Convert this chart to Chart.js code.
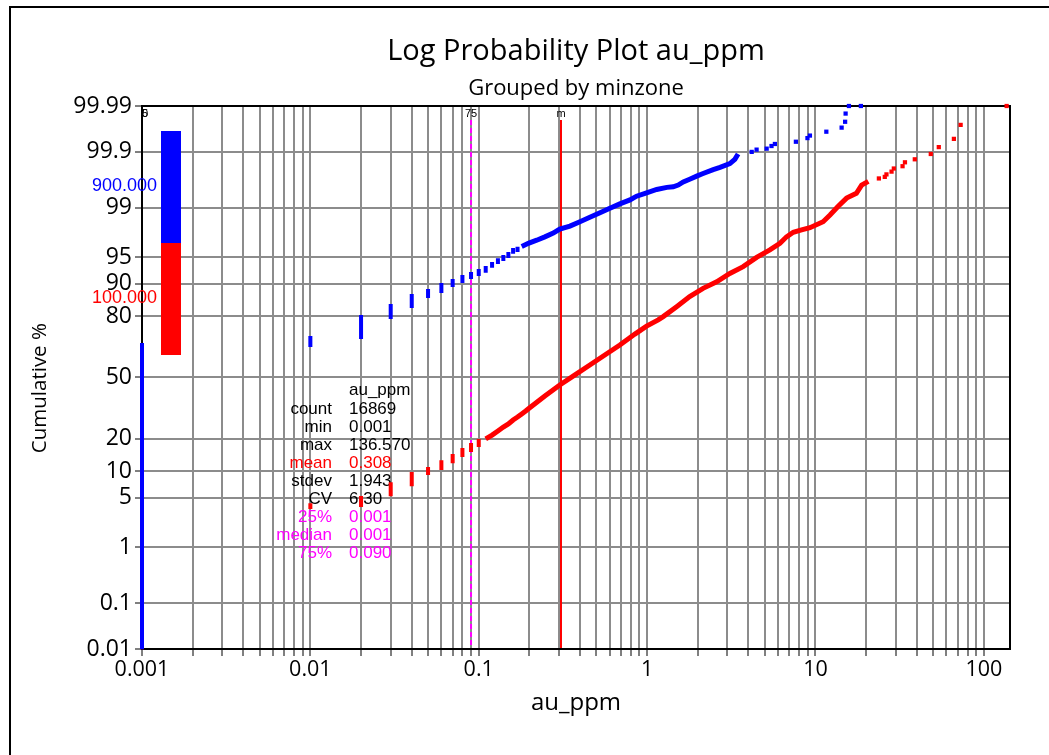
<!DOCTYPE html>
<html>
<head>
<meta charset="utf-8">
<title>Log Probability Plot au_ppm</title>
<script src="https://cdn.jsdelivr.net/npm/chart.js@4.4.1/dist/chart.umd.min.js"></script>
<style>
  html, body { margin: 0; padding: 0; background: #fff; }
  canvas { display: block; }
</style>
</head>
<body>
<canvas id="chart" width="1049" height="755"></canvas>
<script>
// ---- data (value in ppm, cumulative %) ----

// minzone 900 (blue): repeated values show up as vertical runs
var blueRunX  = [0.001, 0.01, 0.02, 0.03, 0.04, 0.05, 0.06, 0.07, 0.08, 0.09, 0.10, 0.11, 0.12, 0.13, 0.14, 0.15, 0.16, 0.17];
var blueRunLo = [0.011, 67.2, 71.0, 79.6, 83.6, 86.8, 88.2, 89.74, 90.69, 91.58, 92.19, 92.8, 93.7, 94.3, 94.77, 95.2, 95.75, 95.95];
var blueRunHi = [67.2, 70.6, 79.6, 83.6, 86.8, 88.2, 89.74, 90.69, 91.58, 92.19, 92.77, 93.3, 94.0, 94.6, 95.06, 95.45, 95.95, 96.1];
var blueBandX   = [0.18, 0.197, 0.221, 0.247, 0.277, 0.303, 0.348, 0.399, 0.457, 0.525, 0.601, 0.689, 0.791, 0.866, 0.993, 1.14, 1.31, 1.43, 1.53, 1.64, 1.79, 1.97, 2.15, 2.47, 2.71, 3.10, 3.32, 3.47];
var blueBandPct = [96.37, 96.7, 97.0, 97.3, 97.6, 97.9, 98.1, 98.36, 98.59, 98.80, 98.98, 99.13, 99.25, 99.35, 99.43, 99.50, 99.54, 99.55, 99.58, 99.63, 99.67, 99.71, 99.74, 99.78, 99.80, 99.83, 99.86, 99.89];
var blueTailX   = [4.18, 4.47, 5.13, 5.48, 5.74, 7.65, 8.96, 9.27, 11.6, 14.3, 15.0, 15.1, 15.8, 18.6];
var blueTailPct = [99.90, 99.91, 99.914, 99.924, 99.931, 99.938, 99.948, 99.954, 99.962, 99.969, 99.977, 99.985, 99.99, 99.99];

// minzone 100 (red)
var redRunX  = [0.001, 0.01, 0.02, 0.03, 0.04, 0.05, 0.06, 0.07, 0.08, 0.09, 0.10];
var redRunLo = [0.011, 3.8, 4.03, 5.5, 7.2, 9.55, 10.75, 12.6, 14.4, 16.0, 17.75];
var redRunHi = [3.8, 4.0, 4.94, 7.2, 9.3, 10.5, 12.3, 14.1, 16.0, 17.75, 19.2];
var redBandX   = [0.11, 0.12, 0.13, 0.14, 0.15, 0.16, 0.17, 0.18, 0.19, 0.20, 0.247, 0.303, 0.373, 0.457, 0.561, 0.689, 0.846, 0.993, 1.164, 1.246, 1.497, 1.79, 2.15, 2.59, 3.10, 3.72, 4.47, 5.36, 6.15, 6.73, 7.38, 8.27, 9.27, 11.1, 12.2, 13.6, 15.3, 17.5, 18.8, 20.6];
var redBandPct = [20.0, 21.5, 23.2, 24.9, 26.2, 28.0, 29.4, 30.9, 32.3, 33.8, 40.0, 45.9, 51.4, 56.8, 62.1, 67.2, 72.4, 75.9, 78.5, 79.8, 83.4, 86.6, 88.9, 90.5, 92.3, 93.55, 95.0, 95.97, 96.7, 97.3, 97.67, 97.84, 97.99, 98.36, 98.70, 99.04, 99.30, 99.42, 99.58, 99.64];
var redTailX   = [23.8, 25.8, 26.4, 28.3, 29.2, 32.9, 34.0, 38.9, 48.4, 54.0, 66.4, 72.8, 136.57];
var redTailPct = [99.68, 99.70, 99.73, 99.76, 99.79, 99.81, 99.84, 99.86, 99.89, 99.92, 99.946, 99.973, 99.99];

// groups / legend
var groupNames  = ['900.000', '100.000'];
var groupColors = ['#0000ff', '#ff0000'];

// summary statistics
var statLabels = ['count', 'min', 'max', 'mean', 'stdev', 'CV', '25%', 'median', '75%'];
var statValues = ['16869', '0.001', '136.570', '0.308', '1.943', '6.30', '0.001', '0.001', '0.090'];
var statColors = ['#000', '#000', '#000', '#ff0000', '#000', '#000', '#ff00ff', '#ff00ff', '#ff00ff'];

// quantile / mean marker lines
var markerValues = [0.001, 0.001, 0.09, 0.308];
var markerLabels = ['25', '50', '75', 'm'];
var markerColors = ['#ff00ff', '#ff00ff', '#ff00ff', '#ff0000'];

// axes
var xDecades    = [0.001, 0.01, 0.1, 1, 10, 100];
var xTickLabels = ['0.001', '0.01', '0.1', '1', '10', '100'];
var yTickPct    = [0.01, 0.1, 1, 5, 10, 20, 50, 80, 90, 95, 99, 99.9, 99.99];
var yTickLabels = ['0.01', '0.1', '1', '5', '10', '20', '50', '80', '90', '95', '99', '99.9', '99.99'];

var FONT = "'Open Sans', 'DejaVu Sans', sans-serif";
var ARIAL = "'Liberation Sans', Arial, sans-serif";

// inverse normal cdf (Acklam), used as the probability-axis transform
function probit(p) {
  var a = [-3.969683028665376e+01, 2.209460984245205e+02, -2.759285104469687e+02, 1.383577518672690e+02, -3.066479806614716e+01, 2.506628277459239e+00];
  var b = [-5.447609879822406e+01, 1.615858368580409e+02, -1.556989798598866e+02, 6.680131188771972e+01, -1.328068155288572e+01];
  var c = [-7.784894002430293e-03, -3.223964580411365e-01, -2.400758277161838e+00, -2.549732539343734e+00, 4.374664141464968e+00, 2.938163982698783e+00];
  var d = [7.784695709041462e-03, 3.224671290700398e-01, 2.445134137142996e+00, 3.754408661907416e+00];
  var q, r;
  if (p < 0.02425) {
    q = Math.sqrt(-2 * Math.log(p));
    return (((((c[0]*q+c[1])*q+c[2])*q+c[3])*q+c[4])*q+c[5]) / ((((d[0]*q+d[1])*q+d[2])*q+d[3])*q+1);
  }
  if (p <= 1 - 0.02425) {
    q = p - 0.5; r = q * q;
    return (((((a[0]*r+a[1])*r+a[2])*r+a[3])*r+a[4])*r+a[5])*q / (((((b[0]*r+b[1])*r+b[2])*r+b[3])*r+b[4])*r+1);
  }
  q = Math.sqrt(-2 * Math.log(1 - p));
  return -(((((c[0]*q+c[1])*q+c[2])*q+c[3])*q+c[4])*q+c[5]) / ((((d[0]*q+d[1])*q+d[2])*q+d[3])*q+1);
}
function z(pct) { return probit(pct / 100); }

function runPoints(xs, lo, hi) {
  var out = [];
  xs.forEach(function(x, i) {
    out.push({x: x, y: z(lo[i])}, {x: x, y: z(hi[i])}, {x: x, y: null});
  });
  return out;
}
function points(xs, pcts) {
  return xs.map(function(x, i) { return {x: x, y: z(pcts[i])}; });
}

// x grid: every 1..9 multiple of each decade
var xGrid = [], xGridLabels = [];
xDecades.forEach(function(dec, i) {
  for (var m = 1; m <= 9; m++) {
    if (m * dec <= 143) {
      xGrid.push(m * dec);
      xGridLabels.push(m === 1 ? xTickLabels[i] : '');
    }
  }
});

function runSet(data, color) {
  return { data: data, showLine: true, spanGaps: false, borderColor: color, borderWidth: 4,
           borderCapStyle: 'square', pointRadius: 0, clip: false };
}
function bandSet(data, color) {
  return { data: data, showLine: true, borderColor: color, borderWidth: 5,
           pointRadius: 0, clip: false };
}
function tailSet(data, color) {
  return { data: data, showLine: false, pointStyle: 'rect', pointRadius: 3, borderWidth: 0,
           backgroundColor: color, borderColor: color, clip: false };
}

var decor = {
  id: 'decor',
  beforeDraw: function(chart) {
    var ctx = chart.ctx, ca = chart.chartArea;
    ctx.save();
    ctx.fillStyle = '#fff';
    ctx.fillRect(0, 0, chart.width, chart.height);
    ctx.fillStyle = '#000';
    ctx.fillRect(9, 6, 2, chart.height - 6);
    ctx.fillRect(9, 6, chart.width - 9, 2);
    var cx = (ca.left + ca.right) / 2;
    ctx.textAlign = 'center';
    ctx.textBaseline = 'middle';
    ctx.font = '29px ' + FONT;
    ctx.fillText('Log Probability Plot au_ppm', cx, 52);
    ctx.font = '22px ' + FONT;
    ctx.fillText('Grouped by minzone', cx, 89);
    ctx.restore();
  },
  beforeDatasetsDraw: function(chart) {
    var ctx = chart.ctx, ca = chart.chartArea, xs = chart.scales.x;
    ctx.save();
    // marker lines
    markerValues.forEach(function(v, i) {
      var px = xs.getPixelForValue(v);
      ctx.beginPath();
      ctx.strokeStyle = markerColors[i];
      ctx.lineWidth = 2;
      ctx.setLineDash(markerColors[i] === '#ff00ff' ? [5, 3] : []);
      ctx.moveTo(px, ca.top + 14);
      ctx.lineTo(px, ca.bottom);
      ctx.stroke();
    });
    ctx.setLineDash([]);
    ctx.save();
    ctx.beginPath();
    ctx.rect(ca.left, ca.top, ca.right - ca.left, ca.bottom - ca.top);
    ctx.clip();
    ctx.fillStyle = '#000';
    ctx.font = '11px ' + ARIAL;
    ctx.textAlign = 'center';
    ctx.textBaseline = 'middle';
    markerValues.forEach(function(v, i) {
      ctx.fillText(markerLabels[i], xs.getPixelForValue(v), ca.top + 8);
    });
    ctx.restore();
    // stats table
    var lx = ca.left + 190, vx = ca.left + 207, y0 = ca.top + 303;
    ctx.font = '17px ' + ARIAL;
    ctx.textBaseline = 'middle';
    ctx.fillStyle = '#000';
    ctx.textAlign = 'left';
    ctx.fillText('au_ppm', vx, y0 - 19);
    statLabels.forEach(function(lab, i) {
      ctx.fillStyle = statColors[i];
      ctx.textAlign = 'right';
      ctx.fillText(lab, lx, y0 + 18 * i);
      ctx.textAlign = 'left';
      ctx.fillText(statValues[i], vx, y0 + 18 * i);
    });
    // frame
    ctx.strokeStyle = '#000';
    ctx.lineWidth = 2;
    ctx.strokeRect(ca.left, ca.top, ca.right - ca.left, ca.bottom - ca.top);
    ctx.restore();
  },
  afterDatasetsDraw: function(chart) {
    var ctx = chart.ctx, ca = chart.chartArea;
    ctx.save();
    var bx = ca.left + 19, by = ca.top + 25, bh = 112;
    ctx.font = '18px ' + ARIAL;
    ctx.textAlign = 'right';
    ctx.textBaseline = 'middle';
    groupNames.forEach(function(name, i) {
      ctx.fillStyle = groupColors[i];
      ctx.fillRect(bx, by + bh * i, 20, bh);
      ctx.fillText(name, ca.left + 15, by + bh * i + bh / 2 - 1);
    });
    ctx.restore();
  }
};

new Chart(document.getElementById('chart'), {
  type: 'scatter',
  data: {
    datasets: [
      runSet(runPoints(blueRunX, blueRunLo, blueRunHi), groupColors[0]),
      bandSet(points(blueBandX, blueBandPct), groupColors[0]),
      tailSet(points(blueTailX, blueTailPct), groupColors[0]),
      runSet(runPoints(redRunX, redRunLo, redRunHi), groupColors[1]),
      bandSet(points(redBandX, redBandPct), groupColors[1]),
      tailSet(points(redTailX, redTailPct), groupColors[1])
    ]
  },
  options: {
    responsive: false,
    animation: false,
    layout: { padding: { top: 106, right: 39, left: 0, bottom: 0 } },
    plugins: { legend: { display: false }, tooltip: { enabled: false }, title: { display: false } },
    scales: {
      x: {
        type: 'logarithmic',
        position: 'bottom',
        min: 0.001,
        max: 143,
        bounds: 'data',
        afterBuildTicks: function(s) { s.ticks = xGrid.map(function(v) { return {value: v}; }); },
        afterFit: function(s) { s.height = 106; },
        ticks: {
          autoSkip: false, maxRotation: 0, minRotation: 0, padding: 1, color: '#000',
          font: { family: FONT, size: 21.5 },
          callback: function(v, i) { return xGridLabels[i]; }
        },
        grid: { color: '#8c8c8c', lineWidth: 2, tickLength: 7, tickColor: '#000', tickWidth: 1 },
        border: { color: '#000', width: 2 },
        title: { display: true, text: 'au_ppm', color: '#000', font: { family: FONT, size: 24 }, padding: { top: 0, bottom: 37 } }
      },
      y: {
        type: 'linear',
        min: z(0.01),
        max: z(99.99),
        afterBuildTicks: function(s) { s.ticks = yTickPct.map(function(p) { return {value: z(p)}; }); },
        afterFit: function(s) { s.width = 142; },
        ticks: {
          autoSkip: false, padding: 3, color: '#000',
          font: { family: FONT, size: 23 },
          callback: function(v, i) { return yTickLabels[i]; }
        },
        grid: { color: '#8c8c8c', lineWidth: 2, tickLength: 7, tickColor: '#000', tickWidth: 1 },
        border: { color: '#000', width: 2 },
        title: { display: true, text: 'Cumulative %    ', color: '#000', font: { family: FONT, size: 20.5 }, padding: { top: 28, bottom: 0 } }
      }
    }
  },
  plugins: [decor]
});
</script>
</body>
</html>
